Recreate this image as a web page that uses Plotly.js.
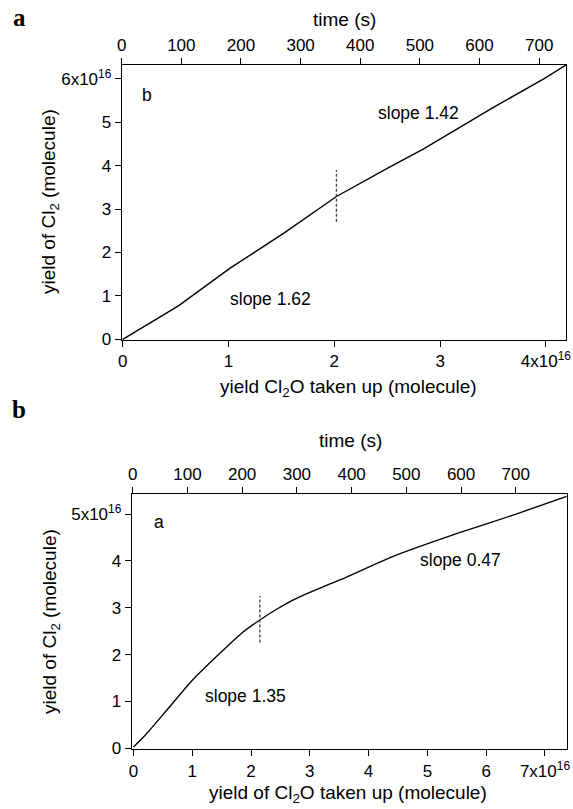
<!DOCTYPE html>
<html>
<head>
<meta charset="utf-8">
<script src="https://cdn.plot.ly/plotly-3.0.1.min.js"></script>
<style>
html,body{margin:0;padding:0;background:#fff;}
#chart{width:573px;height:809px;}
</style>
</head>
<body>
<div id="chart"></div>
<script>
// ---- Data (molecule values in units of 1e16) ----
// Upper panel: Cl2O taken up vs Cl2 yield
const upperCl2OTaken = [0, 0.195, 0.526, 1.015, 1.52, 2.02, 2.50, 2.84, 3.03, 3.50, 3.98, 4.19];
const upperCl2Yield  = [0, 0.29, 0.77, 1.64, 2.44, 3.29, 3.94, 4.38, 4.66, 5.34, 6.00, 6.32];
const upperBreakX = [2.02, 2.02];
const upperBreakY = [2.71, 3.90];

// Lower panel
const lowerCl2OTaken = [0, 0.2, 0.57, 0.99, 1.47, 1.87, 2.15, 2.45, 2.72, 3.0, 3.52, 4.42, 5.56, 6.46, 7.37];
const lowerCl2Yield  = [0.03, 0.28, 0.82, 1.44, 2.03, 2.49, 2.74, 2.98, 3.17, 3.33, 3.60, 4.10, 4.61, 4.98, 5.38];
const lowerBreakX = [2.15, 2.15];
const lowerBreakY = [2.26, 3.25];

// Tick labels
const upperXTickVals = [0, 1, 2, 3, 4];
const upperXTickText = ['0', '1', '2', '3', '4x10<sup>16</sup>'];
const upperYTickVals = [0, 1, 2, 3, 4, 5, 6];
const upperYTickText = ['0', '1', '2', '3', '4', '5', '6x10<sup>16</sup>'];
const lowerXTickVals = [0, 1, 2, 3, 4, 5, 6, 7];
const lowerXTickText = ['0', '1', '2', '3', '4', '5', '6', '7x10<sup>16</sup>'];
const lowerYTickVals = [0, 1, 2, 3, 4, 5];
const lowerYTickText = ['0', '1', '2', '3', '4', '5x10<sup>16</sup>'];
const timeTickVals = [0, 100, 200, 300, 400, 500, 600, 700];

// ---- Layout helpers ----
const W = 573, H = 809;
const px = v => v / W;
const py = v => 1 - v / H;
const FONT = 'Liberation Sans, Arial, sans-serif';
const TICKF = {family: FONT, size: 17, color: '#000'};
const TITLEF = {family: FONT, size: 19, color: '#000'};
const LABF = {family: FONT, size: 17.5, color: '#000'};
const SERIF = {family: 'Liberation Serif, Times New Roman, serif', size: 25, color: '#000'};

const axisBase = {
  showgrid: false, zeroline: false, showline: true, linecolor: '#000', linewidth: 1,
  ticks: 'outside', ticklen: 6, tickwidth: 1, tickcolor: '#000',
  tickfont: TICKF, tickmode: 'array', fixedrange: true
};

const lineStyle = {color: '#000', width: 1.4};
const dashStyle = {color: '#444', width: 1.4, dash: '3px,2px'};

const traces = [
  {x: upperCl2OTaken, y: upperCl2Yield, xaxis: 'x', yaxis: 'y', mode: 'lines', line: lineStyle, hoverinfo: 'skip'},
  {x: upperBreakX, y: upperBreakY, xaxis: 'x', yaxis: 'y', mode: 'lines', line: dashStyle, hoverinfo: 'skip'},
  {x: [], y: [], xaxis: 'x2', yaxis: 'y', mode: 'lines', hoverinfo: 'skip'},
  {x: lowerCl2OTaken, y: lowerCl2Yield, xaxis: 'x3', yaxis: 'y2', mode: 'lines', line: Object.assign({shape: 'spline', smoothing: 0.6}, lineStyle), hoverinfo: 'skip'},
  {x: lowerBreakX, y: lowerBreakY, xaxis: 'x3', yaxis: 'y2', mode: 'lines', line: dashStyle, hoverinfo: 'skip'},
  {x: [], y: [], xaxis: 'x4', yaxis: 'y2', mode: 'lines', hoverinfo: 'skip'}
];

function ann(text, x, y, font, extra) {
  return Object.assign({text: text, xref: 'paper', yref: 'paper', x: px(x), y: py(y),
    xanchor: 'center', yanchor: 'middle', showarrow: false, font: font}, extra || {});
}
function dann(text, xr, yr, x, y) {
  return {text: text, xref: xr, yref: yr, x: x, y: y, xanchor: 'center', yanchor: 'middle', showarrow: false, font: LABF};
}

const layout = {
  width: W, height: H,
  margin: {l: 0, r: 0, t: 0, b: 0},
  paper_bgcolor: '#fff', plot_bgcolor: '#fff',
  showlegend: false,
  xaxis: Object.assign({}, axisBase, {
    domain: [px(121.7), px(566)], anchor: 'y', range: [-0.01, 4.19],
    tickvals: upperXTickVals, ticktext: upperXTickText
  }),
  xaxis2: Object.assign({}, axisBase, {
    overlaying: 'x', side: 'top', anchor: 'y', range: [0, 745],
    tickvals: timeTickVals, ticktext: timeTickVals.map(String)
  }),
  yaxis: Object.assign({}, axisBase, {
    domain: [py(340), py(65)], anchor: 'x', range: [-0.016, 6.32], mirror: true,
    tickvals: upperYTickVals, ticktext: upperYTickText
  }),
  xaxis3: Object.assign({}, axisBase, {
    domain: [px(131.7), px(566.7)], anchor: 'y2', range: [-0.03, 7.37],
    tickvals: lowerXTickVals, ticktext: lowerXTickText
  }),
  xaxis4: Object.assign({}, axisBase, {
    overlaying: 'x3', side: 'top', anchor: 'y2', range: [-1.8, 793],
    tickvals: timeTickVals, ticktext: timeTickVals.map(String)
  }),
  yaxis2: Object.assign({}, axisBase, {
    domain: [py(749.3), py(494)], anchor: 'x3', range: [-0.02, 5.43], mirror: true,
    tickvals: lowerYTickVals, ticktext: lowerYTickText
  }),
  annotations: [
    ann('<b>a</b>', 19, 17, SERIF),
    ann('<b>b</b>', 19, 409, SERIF),
    ann('time (s)', 344, 19, TITLEF),
    ann('yield Cl<sub>2</sub>O taken up (molecule)', 348, 388, TITLEF),
    ann('yield of Cl<sub>2</sub> (molecule)', 50, 202, TITLEF, {textangle: -90}),
    ann('time (s)', 350, 440, TITLEF),
    ann('yield of Cl<sub>2</sub>O taken up (molecule)', 348, 794, TITLEF),
    ann('yield of Cl<sub>2</sub> (molecule)', 51, 622, TITLEF, {textangle: -90}),
    dann('b', 'x', 'y', 0.23, 5.63),
    dann('slope 1.42', 'x', 'y', 2.80, 5.21),
    dann('slope 1.62', 'x', 'y', 1.40, 0.92),
    dann('a', 'x3', 'y2', 0.44, 4.84),
    dann('slope 1.35', 'x3', 'y2', 1.90, 1.12),
    dann('slope 0.47', 'x3', 'y2', 5.56, 4.02)
  ]
};

Plotly.newPlot('chart', traces, layout, {staticPlot: true, displayModeBar: false});
</script>
</body>
</html>
